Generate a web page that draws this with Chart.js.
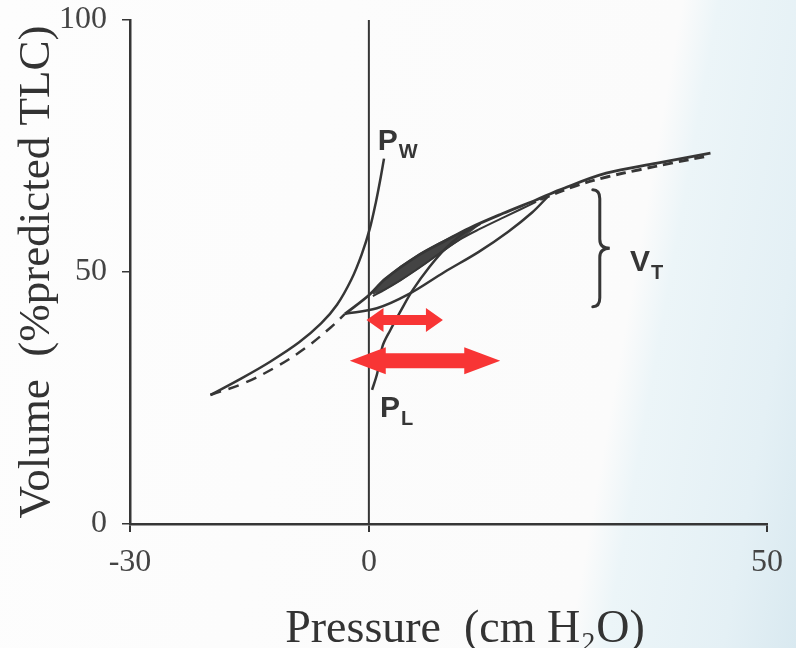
<!DOCTYPE html>
<html>
<head>
<meta charset="utf-8">
<script src="https://cdn.jsdelivr.net/npm/chart.js@4.4.0/dist/chart.umd.min.js"></script>
<style>
  html, body { margin: 0; padding: 0; }
  body {
    width: 796px; height: 648px; overflow: hidden;
    background: linear-gradient(100deg, #fdfdfd 0%, #fbfbfb 75%, #ecf5f8 79%, #e4f0f5 92%, #d9e9f0 100%);
  }
  #wrap { position: relative; width: 796px; height: 648px; }
</style>
</head>
<body>
<div id="wrap"><canvas id="pvChart"></canvas></div>
<script>
// axis ticks
const xTicks = [-30, 0, 50];
const yTicks = [0, 50, 100];

// chest wall curve (Pw)
const pwPressure = [-19.9, -16.0, -12.4, -8.8, -6.0, -4.0, -2.2, -0.9, 0.1, 0.9, 1.5, 1.9];
const pwVolume   = [25.6, 28.9, 32.2, 36.0, 39.8, 43.5, 48.5, 53.5, 58.5, 64.0, 68.9, 72.5];

// dashed branch, lower left
const dashPressure = [-19.9, -15.6, -11.5, -7.9, -4.8, -3.0];
const dashVolume   = [25.6, 28.0, 31.3, 35.0, 39.0, 41.7];

// upper branch of the loop, up to the top right
const upperPressure = [-3.0, 0, 2.1, 6.3, 9.7, 12.6, 16.8, 21.0, 24.0, 29.8, 36.2, 42.9];
const upperVolume   = [41.7, 45.4, 48.7, 53.4, 56.3, 58.7, 61.6, 64.3, 66.3, 69.6, 71.6, 73.6];

// dashed trace lying on the top right part
const topDashPressure = [21.5, 26.0, 30.0, 34.0, 38.0, 42.5];
const topDashVolume   = [64.4, 67.1, 68.9, 70.3, 71.6, 73.0];

// lower branch of the loop
const lowerPressure = [-3.0, 1.0, 5.0, 9.5, 13.8, 17.5, 20.5, 22.5];
const lowerVolume   = [41.7, 42.8, 45.6, 50.0, 54.0, 58.0, 61.8, 65.0];

// lung curve (PL)
const plPressure = [0.4, 1.05, 1.7, 2.7, 4.0, 5.5, 7.6, 9.7, 11.8, 14.0];
const plVolume   = [26.6, 29.9, 35.2, 38.5, 42.3, 46.4, 51.0, 54.8, 57.6, 59.6];

// inner line of the loop
const innerPressure = [0.5, 2.0, 4.0, 6.3, 8.8, 11.5, 14.0, 17.0, 21.0];
const innerVolume   = [45.2, 46.5, 48.4, 50.8, 53.6, 56.5, 58.6, 60.9, 63.9];

// shaded lens
const lensPressure = [0.5, 2.0, 4.0, 6.3, 8.8, 11.5, 13.5, 11.5, 8.8, 6.3, 4.0, 2.0, 0.5];
const lensVolume   = [45.7, 48.6, 51.1, 53.5, 55.7, 57.8, 59.0, 56.5, 53.6, 50.8, 48.4, 46.5, 45.7];

// vertical line at zero pressure
const zeroPressure = [0, 0];
const zeroVolume   = [0, 100.5];

// red arrows (pressure from / to, volume)
const arrowA = { from: -0.3, to: 9.3, y: 40.5 };
const arrowB = { from: -2.4, to: 16.5, y: 32.4 };

// VT brace (pressure, volume top / bottom)
const vtBrace = { x: 29.0, top: 66.3, bottom: 43.1 };

// curve labels
const curveLabels = [
  { main: 'P', sub: 'W', x: 1.1, y: 74.2 },
  { main: 'P', sub: 'L', x: 1.4, y: 21.2 },
  { main: 'V', sub: 'T', x: 32.8, y: 50.2 }
];

function pts(xs, ys) {
  return xs.map((v, i) => ({ x: v, y: ys[i] }));
}

const ink = '#363636';
const serif = '"Liberation Serif", "Times New Roman", serif';

const overlay = {
  id: 'overlay',
  afterDatasetsDraw(chart) {
    const ctx = chart.ctx;
    const x = chart.scales.x, y = chart.scales.y;
    ctx.save();

    // arrows
    ctx.fillStyle = '#f83535';
    const drawArrow = (a, head, hh, bh) => {
      const x1 = x.getPixelForValue(a.from), x2 = x.getPixelForValue(a.to);
      const yy = y.getPixelForValue(a.y);
      ctx.beginPath();
      ctx.moveTo(x1, yy);
      ctx.lineTo(x1 + head, yy - hh);
      ctx.lineTo(x1 + head, yy - bh);
      ctx.lineTo(x2 - head, yy - bh);
      ctx.lineTo(x2 - head, yy - hh);
      ctx.lineTo(x2, yy);
      ctx.lineTo(x2 - head, yy + hh);
      ctx.lineTo(x2 - head, yy + bh);
      ctx.lineTo(x1 + head, yy + bh);
      ctx.lineTo(x1 + head, yy + hh);
      ctx.closePath();
      ctx.fill();
    };
    drawArrow(arrowA, 17, 12, 5);
    drawArrow(arrowB, 36, 13.5, 7.5);

    // brace
    const bx = x.getPixelForValue(vtBrace.x);
    const bt = y.getPixelForValue(vtBrace.top);
    const bb = y.getPixelForValue(vtBrace.bottom);
    const bm = (bt + bb) / 2;
    ctx.strokeStyle = ink;
    ctx.lineWidth = 3;
    ctx.lineCap = 'round';
    ctx.beginPath();
    ctx.moveTo(bx - 7, bt);
    ctx.quadraticCurveTo(bx, bt, bx, bt + 9);
    ctx.lineTo(bx, bm - 9);
    ctx.quadraticCurveTo(bx, bm, bx + 10, bm);
    ctx.quadraticCurveTo(bx, bm, bx, bm + 9);
    ctx.lineTo(bx, bb - 9);
    ctx.quadraticCurveTo(bx, bb, bx - 7, bb);
    ctx.stroke();

    // labels
    ctx.fillStyle = ink;
    ctx.textBaseline = 'alphabetic';
    ctx.textAlign = 'left';
    curveLabels.forEach(l => {
      const lx = x.getPixelForValue(l.x), ly = y.getPixelForValue(l.y);
      ctx.font = 'bold 30px "Liberation Sans", Arial, sans-serif';
      ctx.fillText(l.main, lx, ly);
      const w = ctx.measureText(l.main).width;
      ctx.font = 'bold 20px "Liberation Sans", Arial, sans-serif';
      ctx.fillText(l.sub, lx + w + 1, ly + 8);
    });

    // x axis title
    ctx.fillStyle = '#333';
    ctx.textAlign = 'center';
    ctx.textBaseline = 'alphabetic';
    ctx.font = '46px ' + serif;
    ctx.fillText('Pressure  (cm H\u2082O)', 465, 642);
    ctx.restore();
  }
};

const lineStyle = { showLine: true, pointRadius: 0, borderColor: ink, borderWidth: 2.5, tension: 0.35, fill: false };

new Chart(document.getElementById('pvChart').getContext('2d'), {
  type: 'scatter',
  data: {
    datasets: [
      { ...lineStyle, label: 'Pw', data: pts(pwPressure, pwVolume) },
      { ...lineStyle, label: 'dashed', data: pts(dashPressure, dashVolume), borderDash: [11, 8] },
      { ...lineStyle, label: 'upper', data: pts(upperPressure, upperVolume), borderWidth: 2.8 },
      { ...lineStyle, label: 'top dashed', data: pts(topDashPressure, topDashVolume), borderDash: [10, 6], borderWidth: 3 },
      { ...lineStyle, label: 'lower', data: pts(lowerPressure, lowerVolume) },
      { ...lineStyle, label: 'PL', data: pts(plPressure, plVolume) },
      { ...lineStyle, label: 'inner', data: pts(innerPressure, innerVolume), borderWidth: 2 },
      { ...lineStyle, label: 'lens', data: pts(lensPressure, lensVolume), tension: 0, borderWidth: 1.5,
        borderColor: '#444', backgroundColor: '#444', fill: 'shape' },
      { ...lineStyle, label: 'zero', data: pts(zeroPressure, zeroVolume), tension: 0, borderWidth: 2 }
    ]
  },
  options: {
    responsive: true,
    maintainAspectRatio: false,
    animation: false,
    layout: { padding: { top: 20, right: 29, left: 0, bottom: 0 } },
    plugins: { legend: { display: false }, tooltip: { enabled: false } },
    scales: {
      x: {
        type: 'linear', min: -30, max: 50,
        afterBuildTicks: s => { s.ticks = xTicks.map(v => ({ value: v })); },
        afterFit: s => { s.height = 124; },
        grid: { drawOnChartArea: false, drawTicks: true, tickLength: 8, color: ink, lineWidth: 2 },
        border: { display: true, color: ink, width: 2.5 },
        ticks: { color: '#444', padding: 11, font: { family: serif, size: 32 } }
      },
      y: {
        type: 'linear', min: 0, max: 100,
        afterBuildTicks: s => { s.ticks = yTicks.map(v => ({ value: v })); },
        afterFit: s => { s.width = 130; },
        grid: { drawOnChartArea: false, drawTicks: true, tickLength: 8, color: ink, lineWidth: 1.5 },
        border: { display: true, color: ink, width: 2.5 },
        ticks: { color: '#444', padding: 15, font: { family: serif, size: 32, lineHeight: 0.2 } },
        title: { display: true, text: 'Volume  (%predicted TLC)', color: '#333', padding: { top: 15, bottom: 0 },
          font: { family: serif, size: 45, lineHeight: 1 } }
      }
    }
  },
  plugins: [overlay]
});
</script>
</body>
</html>
